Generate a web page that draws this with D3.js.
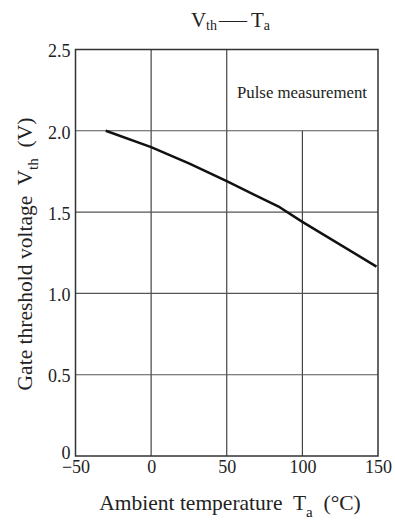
<!DOCTYPE html>
<html><head><meta charset="utf-8">
<script src="https://cdn.jsdelivr.net/npm/d3@7"></script>
<style>body{margin:0;background:#fff}svg{display:block}text{font-family:"Liberation Serif","Times New Roman",serif;fill:#222;white-space:pre}</style>
</head><body>
<script>
const temps = [-30, 0, 25, 50, 85, 100, 149];
const vth = [2.0, 1.90, 1.80, 1.69, 1.53, 1.44, 1.165];
const xTicks = [-50, 0, 50, 100, 150];
const xTickLabels = ["\u221250", "0", "50", "100", "150"];
const yTicks = [0, 0.5, 1.0, 1.5, 2.0, 2.5];
const yTickLabels = ["0", "0.5", "1.0", "1.5", "2.0", "2.5"];

const W = 395, H = 526;
const m = {l: 75.5, r: 17, t: 49.5, b: 70};
const svg = d3.select("body").append("svg").attr("width", W).attr("height", H);
const x = d3.scaleLinear().domain([-50, 150]).range([m.l, W - m.r]);
const y = d3.scaleLinear().domain([0, 2.5]).range([H - m.b, m.t]);

const g = svg.append("g");
// vertical grid
xTicks.slice(1, -1).forEach(t => {
  g.append("line").attr("x1", x(t)).attr("x2", x(t))
    .attr("y1", y(0)).attr("y2", t === 100 ? y(2.0) : y(2.5))
    .attr("stroke", "#333").attr("stroke-width", 1.1);
});
// horizontal grid
yTicks.slice(1, -1).forEach(t => {
  g.append("line").attr("x1", x(-50)).attr("x2", x(150))
    .attr("y1", y(t)).attr("y2", y(t))
    .attr("stroke", "#555").attr("stroke-width", 1.1);
});
// frame
g.append("rect").attr("x", x(-50)).attr("y", y(2.5))
  .attr("width", x(150) - x(-50)).attr("height", y(0) - y(2.5))
  .attr("fill", "none").attr("stroke", "#333").attr("stroke-width", 1.5);

// axes labels
const xAxis = d3.axisBottom(x).tickValues(xTicks).tickSize(0).tickPadding(4)
  .tickFormat((d, i) => xTickLabels[i]);
const xa = svg.append("g").attr("transform", `translate(0,${y(0)})`).call(xAxis);
xa.select(".domain").remove();
xa.selectAll("text").attr("font-size", 18).attr("fill", "#222");

const yAxis = d3.axisLeft(y).tickValues(yTicks).tickSize(0).tickPadding(5)
  .tickFormat((d, i) => yTickLabels[i]);
const ya = svg.append("g").attr("transform", `translate(${x(-50)},0)`).call(yAxis);
ya.select(".domain").remove();
ya.selectAll("text").attr("font-size", 18).attr("fill", "#222")
  .attr("dy", d => d === 0 ? "0.12em" : "0.4em");

// curve
const pts = temps.map((t, i) => [t, vth[i]]);
svg.append("path").datum(pts)
  .attr("d", d3.line().x(d => x(d[0])).y(d => y(d[1])))
  .attr("fill", "none").attr("stroke", "#111").attr("stroke-width", 2.5)
  .attr("stroke-linejoin", "round");

// title
const t1 = svg.append("text").attr("x", 217).attr("y", 27).attr("text-anchor", "end").attr("font-size", 21);
t1.append("tspan").text("V");
t1.append("tspan").text("th").attr("font-size", 14).attr("dy", 3);
svg.append("text").attr("x", 219).attr("y", 27).attr("font-size", 21)
  .attr("textLength", 28).attr("lengthAdjust", "spacingAndGlyphs").text("\u2014");
const t2 = svg.append("text").attr("x", 251).attr("y", 27).attr("font-size", 21);
t2.append("tspan").text("T");
t2.append("tspan").text("a").attr("font-size", 14).attr("dy", 3);

// annotation
svg.append("text").attr("x", 367).attr("y", 98).attr("text-anchor", "end")
  .attr("font-size", 16.8).text("Pulse measurement");

// x title
const xt = svg.append("text").attr("x", 230).attr("y", 510).attr("text-anchor", "middle").attr("font-size", 21.5);
xt.append("tspan").text("Ambient temperature  T");
xt.append("tspan").text("a").attr("font-size", 15).attr("dy", 7);
xt.append("tspan").text("  (\u00B0C)").attr("dy", -7);

// y title
const yt = svg.append("text").attr("transform", `translate(32,${254}) rotate(-90)`)
  .attr("text-anchor", "middle").attr("font-size", 21.5);
yt.append("tspan").text("Gate threshold voltage  V");
yt.append("tspan").text("th").attr("font-size", 15).attr("dy", 6);
yt.append("tspan").text("  (V)").attr("dy", -6);
</script>
</body></html>
